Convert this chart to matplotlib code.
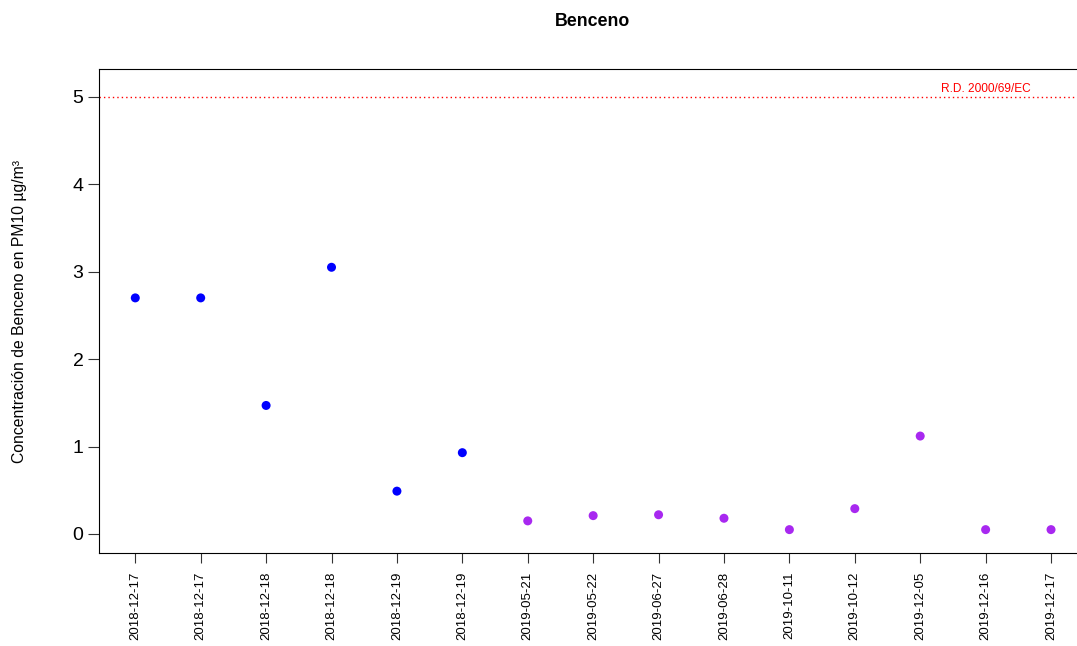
import matplotlib as mpl
mpl.use('Agg')
import matplotlib.pyplot as plt

plt.rcParams['font.family'] = ['Liberation Sans', 'DejaVu Sans']

fechas = ['2018-12-17', '2018-12-17', '2018-12-18', '2018-12-18', '2018-12-19',
          '2018-12-19', '2019-05-21', '2019-05-22', '2019-06-27', '2019-06-28',
          '2019-10-11', '2019-10-12', '2019-12-05', '2019-12-16', '2019-12-17']
benceno = [2.70, 2.70, 1.47, 3.05, 0.49, 0.93, 0.15, 0.21, 0.22, 0.18,
           0.05, 0.29, 1.12, 0.05, 0.05]
limite = 5.0
limite_txt = 'R.D. 2000/69/EC'

# color por año de muestreo
colores = ['#0000FF' if f.startswith('2018') else '#A828F0' for f in fechas]
pos = list(range(1, len(fechas) + 1))

fig = plt.figure(figsize=(10.77, 6.46), dpi=100)
ax = fig.add_axes([0.0916, 0.144, 0.9183, 0.749])

ax.scatter(pos, benceno, c=colores, s=42, linewidths=0, zorder=3)
ax.axhline(limite, color='red', lw=1, dashes=(1, 2.2))
ax.annotate(limite_txt, (14, limite), xytext=(0, 1.5), textcoords='offset points',
            ha='center', va='bottom', color='red', fontsize=8.6)

ax.set_xlim(0.44, 15.56)
ax.set_ylim(-0.217, 5.316)
ax.set_xticks(pos)
ax.set_xticklabels(fechas, rotation=90, fontsize=9.5)
ax.set_yticks([0, 1, 2, 3, 4, 5])
ax.tick_params(axis='y', labelsize=14, length=8, width=0.8, pad=3, colors='#333333', labelcolor='black')
ax.tick_params(axis='x', length=7.5, width=0.8, pad=6, colors='#333333', labelcolor='black')
for s in ax.spines.values():
    s.set_linewidth(0.8)

ax.set_ylabel('Concentración de Benceno en PM10 µg/m³', fontsize=11.3)
ax.yaxis.set_label_coords(-0.0725, 0.5)
fig.text(0.5506, 0.966, 'Benceno', ha='center', va='center', fontsize=12.8, fontweight='bold')

fig.savefig('out.png', dpi=100)
